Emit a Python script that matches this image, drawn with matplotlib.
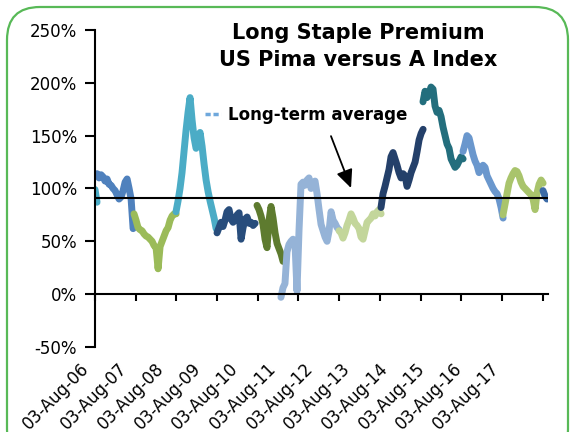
import numpy as np
import pandas as pd
import matplotlib
matplotlib.use('Agg')
import matplotlib.pyplot as plt
import matplotlib.dates as mdates
from matplotlib.ticker import PercentFormatter, MultipleLocator
from matplotlib.lines import Line2D
from matplotlib.patches import FancyBboxPatch

plt.rcParams['font.family'] = ['DejaVu Sans']
plt.rcParams['axes.unicode_minus'] = False

# Pima premium over the A Index (%), one run per marketing year, sampled every 18 days
start_dates = ['2006-08-03', '2006-08-03', '2007-07-19', '2008-07-30', '2009-08-02',
               '2010-07-27', '2011-02-27', '2012-08-01', '2013-08-13', '2014-08-25',
               '2015-08-19', '2016-08-12', '2017-08-06']
prem_0506 = [99, 87]
prem_0607 = [112, 114, 110, 113, 111, 107, 109, 104, 103, 100, 98, 94, 90, 92, 98, 106,
             109, 100, 90, 62]
prem_0708 = [76, 70, 63, 61, 60, 57, 55, 54, 52, 50, 46, 44, 24, 45, 50, 55, 60, 63, 70,
             74, 76, 76]
prem_0809 = [78, 88, 100, 115, 135, 155, 172, 186, 165, 148, 138, 142, 153, 140, 123, 108,
             97, 88, 80, 72, 62]
prem_0910 = [58, 63, 68, 64, 70, 78, 80, 71, 68, 70, 75, 77, 52, 63, 71, 73, 67, 68, 65, 67]
prem_1011 = [84, 80, 74, 66, 52, 44, 70, 83, 72, 58, 48, 43, 38, 31]
prem_1112 = [-3, 6, 10, 40, 47, 50, 52, 48, 3, 60, 104, 106, 103, 108, 110, 100, 104, 107,
             95, 80, 66, 60, 54, 50, 60, 78, 70, 67, 63, 61]
prem_1213 = [60, 58, 53, 58, 65, 70, 76, 72, 67, 65, 62, 54, 52, 60, 68, 70, 72, 76, 74,
             78, 80, 76]
prem_1314 = [82, 95, 102, 110, 118, 130, 134, 128, 122, 115, 110, 114, 112, 102, 108, 115,
             120, 125, 135, 146, 152, 156]
prem_1415 = [182, 192, 186, 190, 196, 194, 178, 172, 174, 168, 158, 150, 142, 138, 128, 124,
             120, 122, 126, 130, 128]
prem_1516 = [135, 142, 150, 148, 140, 132, 126, 122, 115, 118, 122, 120, 112, 108, 104, 100,
             97, 95, 90, 82, 72]
prem_1617 = [75, 85, 95, 105, 110, 114, 117, 116, 112, 106, 102, 100, 98, 96, 94, 90, 80, 96,
             104, 108, 105]
prem_1718 = [98, 93, 90]
season_colors = ['#4bacc6', '#4f81bd', '#9bbb59', '#4bacc6', '#284d7c', '#5e7b2f', '#95b3d7',
                 '#c3d69b', '#24406a', '#236e7d', '#6a97cd', '#a9c46c', '#3c6ba6']
long_term_avg = 91
label_years = list(range(2006, 2018))

seasons = [prem_0506, prem_0607, prem_0708, prem_0809, prem_0910, prem_1011, prem_1112,
           prem_1213, prem_1314, prem_1415, prem_1516, prem_1617, prem_1718]

fig = plt.figure(figsize=(5.7, 4.32), dpi=100)
ax = fig.add_axes([0.1667, 0.1968, 0.7947, 0.7338])

for start, vals, col in zip(start_dates, seasons, season_colors):
    dates = pd.date_range(start, periods=len(vals), freq='18D')
    ax.plot(dates, vals, color=col, lw=5, solid_capstyle='round', solid_joinstyle='round')

ax.axhline(long_term_avg, color='black', lw=1.5)

ax.set_ylim(-50, 250)
ax.set_xlim(np.datetime64('2006-08-03'), np.datetime64('2017-09-20'))
ax.yaxis.set_major_locator(MultipleLocator(50))
ax.yaxis.set_major_formatter(PercentFormatter(decimals=0))

for s in ['top', 'right']:
    ax.spines[s].set_visible(False)
ax.spines['left'].set_linewidth(1.5)
ax.spines['bottom'].set_linewidth(1.5)
ax.spines['bottom'].set_position(('data', 0))

ax.xaxis.set_major_locator(mdates.YearLocator(base=1, month=8, day=3))
ax.tick_params(axis='x', labelbottom=False, direction='out', length=5, width=1.5)
ax.tick_params(axis='y', direction='out', length=7, width=1.5, labelsize=12, pad=6)

# date labels run along the bottom edge on a slightly tighter pitch than the ticks
x0 = mdates.date2num(np.datetime64('2006-08-03'))
pitch = 1.091
for y in label_years:
    d = mdates.date2num(np.datetime64(f'{y}-08-03'))
    ax.annotate(f'03-Aug-{y % 100:02d}', xy=(x0 + (d - x0) / pitch, 0),
                xycoords=('data', 'axes fraction'), xytext=(-5, -22), textcoords='offset pixels',
                rotation=45, ha='right', va='baseline', rotation_mode='anchor', fontsize=12,
                annotation_clip=False)

fig.text(0.628, 0.892, 'Long Staple Premium\nUS Pima versus A Index', ha='center', va='center',
         fontsize=15, fontweight='bold', linespacing=1.4)

proxy = Line2D([], [], color='#6fa8dc', lw=2.5, ls=(0, (1.5, 0.8)))
ax.legend([proxy], ['Long-term average'], loc='center left', bbox_to_anchor=(0.209, 0.733),
          frameon=False, handlelength=1.0, handletextpad=0.4,
          prop={'weight': 'bold', 'size': 12})

ax.annotate('', xy=(np.datetime64('2012-11-26'), 98), xytext=(np.datetime64('2012-05-12'), 152),
            arrowprops=dict(arrowstyle='-|>,head_length=1.1,head_width=0.5', color='black', lw=1.3))

border = FancyBboxPatch((0.07, -0.3), 5.61, 4.55, boxstyle='round,pad=0,rounding_size=0.33',
                        transform=fig.dpi_scale_trans, fill=False, edgecolor='#58b957', lw=1.6,
                        clip_on=False)
fig.patches.append(border)

fig.savefig('out.png', dpi=100)
